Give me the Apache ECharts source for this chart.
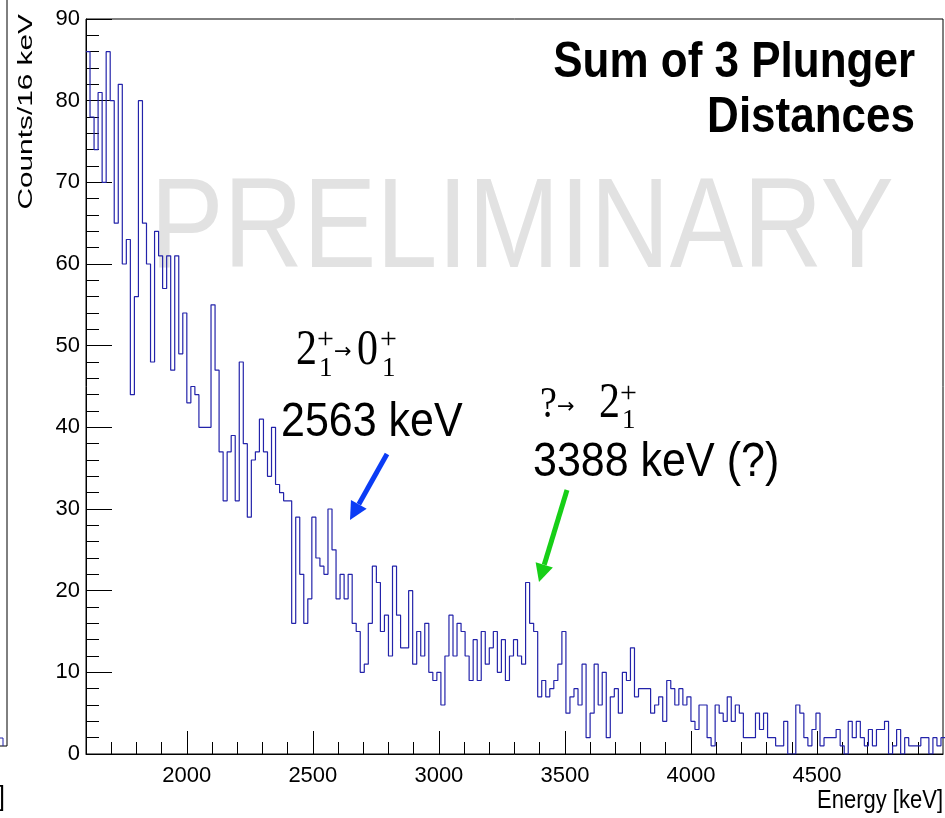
<!DOCTYPE html>
<html>
<head>
<meta charset="utf-8">
<script src="https://cdn.jsdelivr.net/npm/echarts@6/dist/echarts.min.js"></script>
<style>
html,body{margin:0;padding:0;background:#fff;}
#chart{width:945px;height:818px;}
</style>
</head>
<body>
<div id="chart"></div>
<script>
// ---- data ----
const binStart = 1600;   // keV, left edge of first bin
const binWidth = 16;     // keV per bin
const counts = [
  86,78,74,81,70,86,80,65,82,60,
  63,44,56,80,65,60,48,64,61,57,
  61,47,61,49,54,43,45,44,40,40,
  40,55,47,37,31,37,39,31,48,38,
  29,36,37,41,37,34,40,33,32,31,
  31,16,29,22,16,19,29,24,23,22,
  30,25,19,22,19,22,16,15,10,11,
  16,23,21,15,17,12,23,17,13,13,
  20,11,15,12,16,10,9,10,6,12,
  17,12,16,15,12,9,14,9,15,11,
  13,15,10,14,9,12,14,12,11,21,
  16,15,7,9,7,8,9,11,15,5,
  7,8,6,11,2,5,11,6,10,2,
  7,8,5,10,9,13,7,8,8,8,
  5,6,7,4,9,8,6,8,6,7,
  4,3,6,6,2,1,6,5,4,7,
  4,6,5,2,2,2,5,3,5,2,
  2,1,1,4,0,0,6,5,2,1,
  3,5,1,2,2,2,3,1,0,4,
  2,4,2,1,3,1,3,3,4,0,
  1,3,0,2,1,1,1,2,2,0,
  2,1,2
];
const xMin = 1600, xMax = 5000;
const yMin = 0, yMax = 90, yStep = 10;
const xMajorTicks = [2000, 2500, 3000, 3500, 4000, 4500];
const xMinorTicks = [1700,1800,1900,2100,2200,2300,2400,2600,2700,2800,2900,
  3100,3200,3300,3400,3600,3700,3800,3900,4100,4200,4300,4400,4600,4700,4800,4900];

// ---- build step outline ----
const stepData = counts.map((c, i) => [binStart + binWidth * i, c]);
stepData.push([binStart + binWidth * counts.length, counts[counts.length - 1]]);

const labelFont = "'Liberation Sans', Arial, sans-serif";
const sans = "'Liberation Sans', Arial, sans-serif";
const serif = "'Liberation Serif', 'DejaVu Serif', serif";
const arrowFont = "'DejaVu Sans', sans-serif";

function txt(text, x, y, font, opts) {
  opts = opts || {};
  return {
    type: 'text', x: x, y: y, z: opts.z != null ? opts.z : 10,
    rotation: opts.rotation || 0,
    scaleX: opts.sx || 1, scaleY: opts.sy || 1,
    style: {
      text: text, font: font, fill: opts.fill || '#000',
      textAlign: opts.align || 'left', textVerticalAlign: opts.valign || 'middle'
    }
  };
}
function arrow(x1, y1, x2, y2, color) {
  const dx = x2 - x1, dy = y2 - y1, L = Math.hypot(dx, dy);
  const ux = dx / L, uy = dy / L, hl = 18, hw = 9;
  const bx = x2 - ux * hl, by = y2 - uy * hl;
  return [
    { type: 'line', z: 10, shape: { x1: x1, y1: y1, x2: bx, y2: by },
      style: { stroke: color, lineWidth: 5 } },
    { type: 'polygon', z: 10, shape: { points: [[x2, y2], [bx - uy * hw, by + ux * hw], [bx + uy * hw, by - ux * hw]] },
      style: { fill: color } }
  ];
}

const graphics = [
  // neighbouring panel fragment on the far left
  { type: 'polyline', z: 10, shape: { points: [[7, 0], [7, 746], [0, 746]] }, style: { stroke: '#000', lineWidth: 1, fill: null } },
  { type: 'polyline', z: 10, shape: { points: [[0, 738], [3, 738], [3, 746]] }, style: { stroke: '#2222aa', lineWidth: 1, fill: null } },
  txt(']', -2, 797, '25px ' + sans, { sy: 1.1 }),
  // watermark
  txt('PRELIMINARY', 522, 232, '110px ' + sans, { align: 'center', fill: '#e2e2e2', z: 0, sy: 1.16 }),
  // title
  txt('Sum of 3 Plunger', 915, 63, 'bold 44px ' + sans, { align: 'right', sy: 1.12 }),
  txt('Distances', 915, 118, 'bold 44px ' + sans, { align: 'right', sy: 1.12 }),
  // axis titles
  txt('Counts/16 keV', 26, 14, '21px ' + sans, { align: 'right', rotation: Math.PI / 2, sx: 1.42 }),
  txt('Energy [keV]', 943, 801, '22px ' + sans, { align: 'right', sy: 1.2 }),
  // annotation 1
  txt('2', 296, 351, '42px ' + serif, { sy: 1.2 }),
  txt('+', 317, 340, '30px ' + serif),
  txt('1', 319, 369, '27px ' + serif),
  txt('\u2192', 334, 353, '21px ' + arrowFont),
  txt('0', 357, 351, '42px ' + serif, { sy: 1.2 }),
  txt('+', 380, 340, '30px ' + serif),
  txt('1', 382, 369, '27px ' + serif),
  txt('2563 keV', 281, 423, '43px ' + sans, { sy: 1.1 }),
  // annotation 2
  txt('?', 540, 406, '38px ' + serif, { sy: 1.15 }),
  txt('\u2192', 557, 408, '21px ' + arrowFont),
  txt('2', 599, 404, '42px ' + serif, { sy: 1.2 }),
  txt('+', 620, 394, '30px ' + serif),
  txt('1', 622, 421, '27px ' + serif),
  txt('3388 keV (?)', 533, 463, '43px ' + sans, { sy: 1.1 })
].concat(arrow(387, 454, 350, 520, '#0b3cf5'), arrow(567, 490, 539, 582, '#17cf17'));

const chart = echarts.init(document.getElementById('chart'), null, { renderer: 'canvas' });
chart.setOption({
  animation: false,
  backgroundColor: '#fff',
  grid: { left: 86, right: 2, top: 19, bottom: 64, show: true, borderColor: '#000', borderWidth: 1, backgroundColor: 'transparent' },
  xAxis: [
    {
      type: 'value', min: xMin, max: xMax, position: 'bottom',
      axisLine: { show: true, lineStyle: { color: '#000', width: 1 } },
      axisTick: { show: true, inside: true, length: 12, customValues: xMinorTicks, lineStyle: { color: '#000' } },
      axisLabel: { show: false },
      splitLine: { show: false }
    },
    {
      type: 'value', min: xMin, max: xMax, position: 'bottom',
      axisLine: { show: false },
      axisTick: { show: true, inside: true, length: 23, customValues: xMajorTicks, lineStyle: { color: '#000' } },
      axisLabel: { show: true, customValues: xMajorTicks, color: '#000', fontSize: 22, fontFamily: labelFont, margin: 11,
        formatter: v => String(v) },
      splitLine: { show: false }
    }
  ],
  yAxis: {
    type: 'value', min: yMin, max: yMax, interval: yStep,
    axisLine: { show: true, lineStyle: { color: '#000', width: 1 } },
    axisTick: { show: true, inside: true, length: 26, lineStyle: { color: '#000' } },
    minorTick: { show: true, splitNumber: 5, length: 13, lineStyle: { color: '#000' } },
    axisLabel: { color: '#000', fontSize: 22, fontFamily: labelFont, margin: 6, formatter: v => String(v) },
    splitLine: { show: false }
  },
  series: [{
    type: 'line', xAxisIndex: 0, data: stepData, step: 'end', symbol: 'none',
    clip: true, z: 5,
    lineStyle: { color: '#2323aa', width: 1.2 }
  }],
  graphic: graphics
});
</script>
</body>
</html>
